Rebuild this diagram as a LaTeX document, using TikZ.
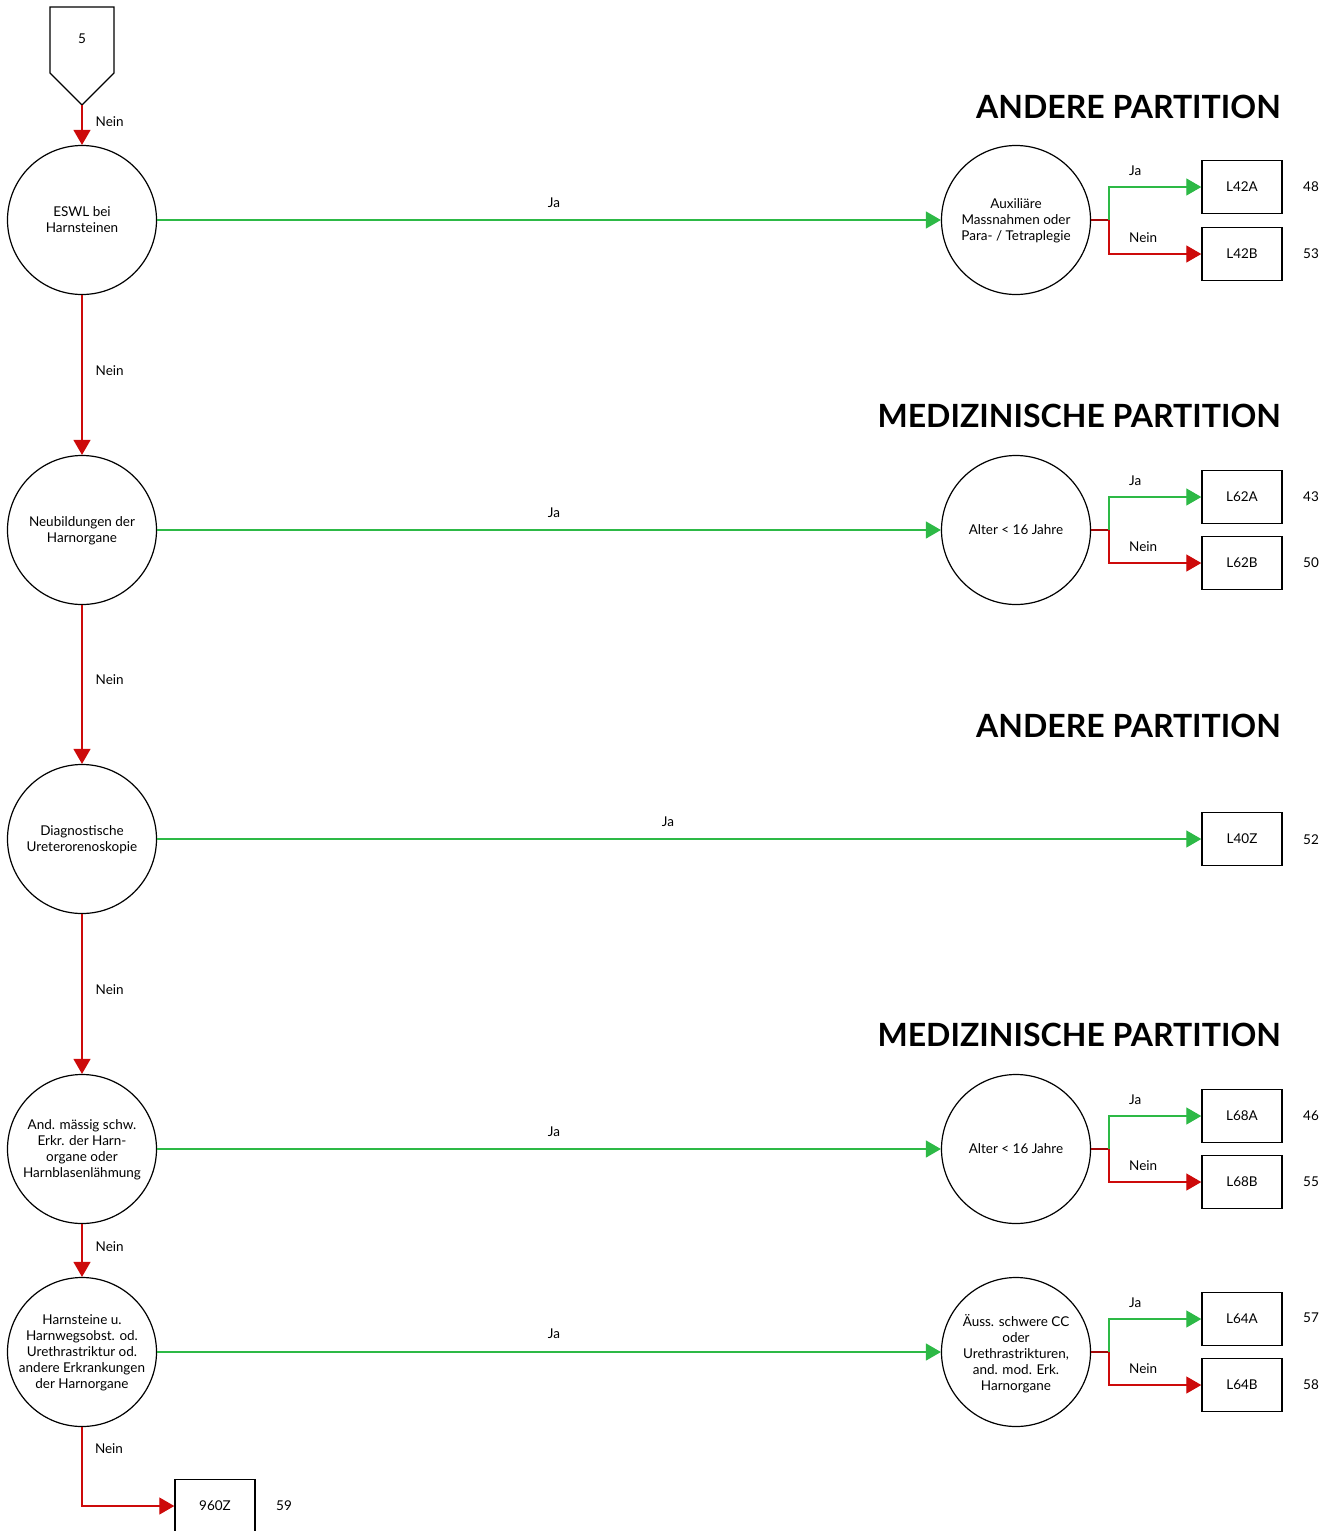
\documentclass[tikz,border=0pt]{standalone}
\usepackage{fontspec}
\setmainfont{Lato}
\usetikzlibrary{arrows.meta}
\definecolor{jagreen}{RGB}{45,185,70}
\definecolor{neinred}{RGB}{205,10,10}
\tikzset{
  txt/.style={font=\fontsize{13.5}{16}\selectfont},
  question/.style={txt,circle,draw,line width=1.2pt,minimum size=149pt,inner sep=0pt,align=center,text depth=-5pt},
  result/.style={txt,rectangle,draw,line width=1.4pt,minimum width=80pt,minimum height=53pt,inner sep=0pt},
  lbl/.style={txt,inner sep=0pt},
  heading/.style={font=\fontsize{32}{38}\selectfont\bfseries,anchor=east,inner sep=0pt},
  ja/.style={draw=jagreen,line width=1.3pt,-{Triangle[length=15pt,width=17pt]}},
  nein/.style={draw=neinred,line width=1.3pt,-{Triangle[length=15pt,width=17pt]}},
  stub/.style={draw=neinred!80!black,line width=1.3pt}
}
\begin{document}
\begin{tikzpicture}[x=1pt,y=-1pt]
  \useasboundingbox (0,0) rectangle (1340,1531);
%start connector
  \draw [line width=1.2pt] (50,7) -- (114,7) -- (114,73) -- (82,105) -- (50,73) -- cycle;
  \node [lbl] (p5) at (82,39) {5};
  \coordinate (p5tip) at (82,105);
%headings
  \node [heading] (h1) at (1281,107) {ANDERE PARTITION};
  \node [heading] (h2) at (1281,416) {MEDIZINISCHE PARTITION};
  \node [heading] (h3) at (1281,726) {ANDERE PARTITION};
  \node [heading] (h4) at (1281,1035) {MEDIZINISCHE PARTITION};
%left column
  \node [question] (eswl) at (82,220) {ESWL bei\\Harnsteinen};
  \node [question] (neub) at (82,530) {Neubildungen der\\Harnorgane};
  \node [question] (diag) at (82,839) {Diagnostische\\Ureterorenoskopie};
  \node [question] (andm) at (82,1149) {And. m\"assig schw.\\Erkr. der Harn-\\organe oder\\Harnblasenl\"ahmung};
  \node [question] (harn) at (82,1352) {Harnsteine u.\\Harnwegsobst. od.\\Urethrastriktur od.\\andere Erkrankungen\\der Harnorgane};
%right column
  \node [question] (auxi) at (1016,220) {Auxili\"are\\Massnahmen oder\\Para- / Tetraplegie};
  \node [question] (alta) at (1016,530) {Alter < 16 Jahre};
  \node [question] (altb) at (1016,1149) {Alter < 16 Jahre};
  \node [question] (auss) at (1016,1352) {\"Auss. schwere CC\\oder\\Urethrastrikturen,\\and. mod. Erk.\\Harnorgane};
%results
  \node [result] (l42a) at (1242,187) {L42A};
  \node [result] (l42b) at (1242,254) {L42B};
  \node [result] (l62a) at (1242,497) {L62A};
  \node [result] (l62b) at (1242,563) {L62B};
  \node [result] (l40z) at (1242,839) {L40Z};
  \node [result] (l68a) at (1242,1116) {L68A};
  \node [result] (l68b) at (1242,1182) {L68B};
  \node [result] (l64a) at (1242,1319) {L64A};
  \node [result] (l64b) at (1242,1385) {L64B};
  \node [result] (z960) at (215,1506) {960Z};
%numbers
  \node [lbl] (n48) at (1311,187) {48};
  \node [lbl] (n53) at (1311,254) {53};
  \node [lbl] (n43) at (1311,497) {43};
  \node [lbl] (n50) at (1311,563) {50};
  \node [lbl] (n52) at (1311,840) {52};
  \node [lbl] (n46) at (1311,1116) {46};
  \node [lbl] (n55) at (1311,1182) {55};
  \node [lbl] (n57) at (1311,1318) {57};
  \node [lbl] (n58) at (1311,1385) {58};
  \node [lbl] (n59) at (284,1506) {59};
%nein chain
  \draw [nein] (p5tip) -- (eswl.north) node [lbl,pos=0.42,right=13pt] {Nein};
  \draw [nein] (eswl) -- (neub) node [lbl,pos=0.47,right=13pt] {Nein};
  \draw [nein] (neub) -- (diag) node [lbl,pos=0.47,right=13pt] {Nein};
  \draw [nein] (diag) -- (andm) node [lbl,pos=0.47,right=13pt] {Nein};
  \draw [nein] (andm) -- (harn) node [lbl,pos=0.42,right=13pt] {Nein};
  \coordinate (bend) at (82,1506);
  \draw [nein] (harn.south) -- (bend) -- (z960.west);
  \node [lbl] (nbot) at (109,1449) {Nein};
%ja lines
  \draw [ja] (eswl) -- (auxi);
  \node [lbl] (j1) at (554,203) {Ja};
  \draw [ja] (neub) -- (alta);
  \node [lbl] (j2) at (554,513) {Ja};
  \draw [ja] (diag) -- (l40z);
  \node [lbl] (j3) at (668,822) {Ja};
  \draw [ja] (andm) -- (altb);
  \node [lbl] (j4) at (554,1132) {Ja};
  \draw [ja] (harn) -- (auss);
  \node [lbl] (j5) at (554,1334) {Ja};
%branches
  \foreach \q/\a/\b in {auxi/l42a/l42b, alta/l62a/l62b, altb/l68a/l68b, auss/l64a/l64b} {
    \coordinate (\q split) at ([xshift=18pt]\q.east);
    \draw [stub] (\q.east) -- (\q split);
    \draw [ja] (\q split) |- (\a.west) node [lbl,pos=0.75,above=11pt,xshift=-20pt] {Ja};
    \draw [nein] (\q split) |- (\b.west) node [lbl,pos=0.75,above=11pt,xshift=-12pt] {Nein};
  }
\end{tikzpicture}
\end{document}
